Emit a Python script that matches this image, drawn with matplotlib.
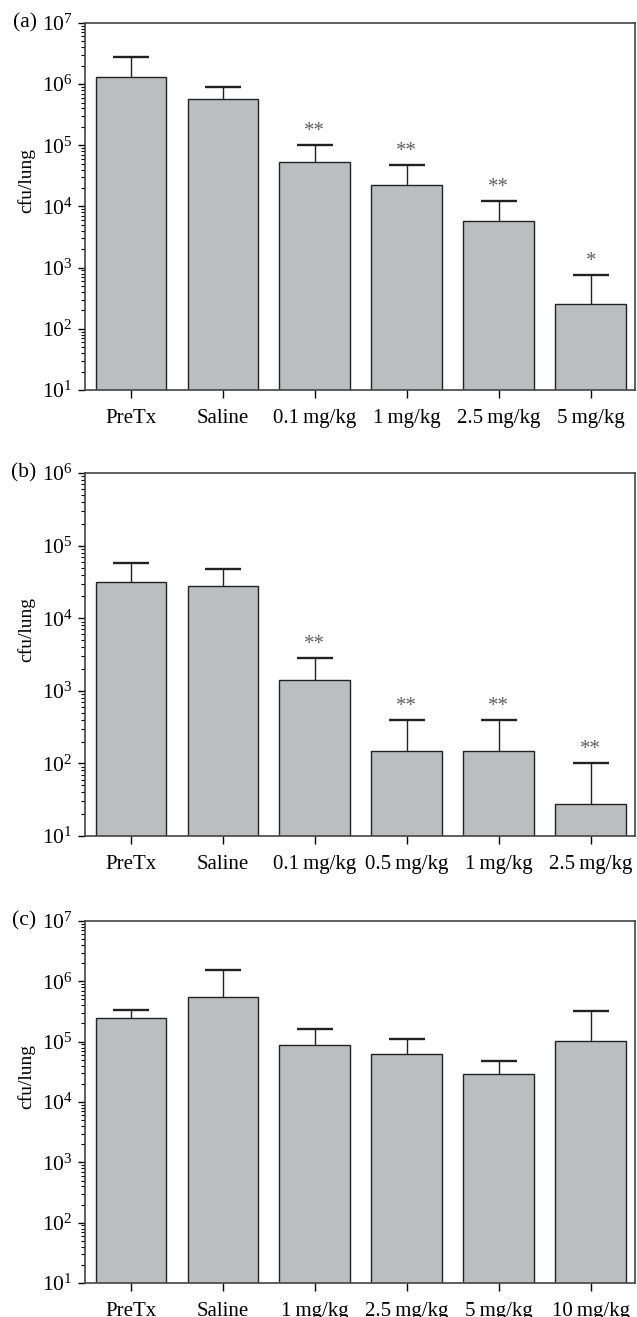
import matplotlib
matplotlib.use("Agg")
import matplotlib.pyplot as plt
import numpy as np
from matplotlib.ticker import LogLocator, NullFormatter

plt.rcParams['font.family'] = ['Liberation Serif', 'DejaVu Serif']
plt.rcParams['mathtext.fontset'] = 'custom'
plt.rcParams['mathtext.rm'] = 'Liberation Serif'

# panel (a)
labels_a = ['PreTx', 'Saline', '0.1\u2009mg/kg', '1\u2009mg/kg', '2.5\u2009mg/kg', '5\u2009mg/kg']
mean_a = [1.33e6, 5.8e5, 5.4e4, 2.27e4, 5.7e3, 2.5e2]
top_a = [2.8e6, 9.1e5, 1.02e5, 4.8e4, 1.24e4, 7.6e2]
stars_a = ['', '', '**', '**', '**', '*']

# panel (b)
labels_b = ['PreTx', 'Saline', '0.1\u2009mg/kg', '0.5\u2009mg/kg', '1\u2009mg/kg', '2.5\u2009mg/kg']
mean_b = [3.2e4, 2.8e4, 1.43e3, 1.5e2, 1.5e2, 28]
top_b = [5.7e4, 4.7e4, 2.8e3, 4.0e2, 4.0e2, 1.02e2]
stars_b = ['', '', '**', '**', '**', '**']

# panel (c)
labels_c = ['PreTx', 'Saline', '1\u2009mg/kg', '2.5\u2009mg/kg', '5\u2009mg/kg', '10\u2009mg/kg']
mean_c = [2.47e5, 5.6e5, 8.8e4, 6.3e4, 2.9e4, 1.02e5]
top_c = [3.4e5, 1.54e6, 1.6e5, 1.1e5, 4.7e4, 3.2e5]
stars_c = ['', '', '', '', '', '']

fig = plt.figure(figsize=(6.37, 13.17), dpi=100)

panels = [
    ('(a)', labels_a, mean_a, top_a, stars_a, 1e7, [0.1334, 0.7039, 0.8634, 0.2787]),
    ('(b)', labels_b, mean_b, top_b, stars_b, 1e6, [0.1334, 0.3652, 0.8634, 0.2756]),
    ('(c)', labels_c, mean_c, top_c, stars_c, 1e7, [0.1334, 0.0258, 0.8634, 0.2749]),
]

for tag, labels, mean, top, stars, ymax, rect in panels:
    ax = fig.add_axes(rect)
    x = np.arange(len(labels))
    mean = np.array(mean)
    err = np.array(top) - mean
    ax.bar(x, mean, width=0.77, color='#bcbdbf', edgecolor='#222222',
           linewidth=1.0, zorder=2)
    eb = ax.errorbar(x, mean, yerr=[np.zeros_like(err), err], fmt='none',
                     ecolor='#222222', elinewidth=1.0, capsize=13, capthick=1.7,
                     zorder=3)
    # keep only the upper caps
    for cl in eb[1]:
        if np.allclose(cl.get_ydata(), mean):
            cl.set_visible(False)
    for xi, t, s in zip(x, top, stars):
        if s:
            ax.annotate(s, (xi, t), xytext=(0, 3), textcoords='offset points',
                        ha='center', va='bottom', fontsize=15, color='#606060')
    ax.set_yscale('log')
    ax.set_ylim(10, ymax)
    ax.set_xlim(-0.5, 5.48)
    ax.yaxis.set_major_locator(LogLocator(base=10, numticks=10))
    ax.yaxis.set_minor_locator(LogLocator(base=10, subs=np.arange(2, 10), numticks=10))
    ax.yaxis.set_minor_formatter(NullFormatter())
    ax.set_xticks(x)
    ax.set_xticklabels(labels, fontsize=15)
    ax.tick_params(axis='y', which='major', labelsize=15.5, length=5,
                   width=1.0, direction='out', pad=4)
    ax.tick_params(axis='y', which='minor', length=3, width=0.8, direction='out')
    ax.tick_params(axis='x', length=6, width=1.0, direction='out', pad=8)
    for sp in ax.spines.values():
        sp.set_color('#444444')
        sp.set_linewidth(1.2)
    ax.set_ylabel('cfu/lung', fontsize=14)
    ax.yaxis.set_label_coords(-0.09, 0.57)
    ax.text(-0.088, 1.0, tag, transform=ax.transAxes, ha='right', va='center',
            fontsize=15.5)

fig.savefig('out.png', dpi=100)
